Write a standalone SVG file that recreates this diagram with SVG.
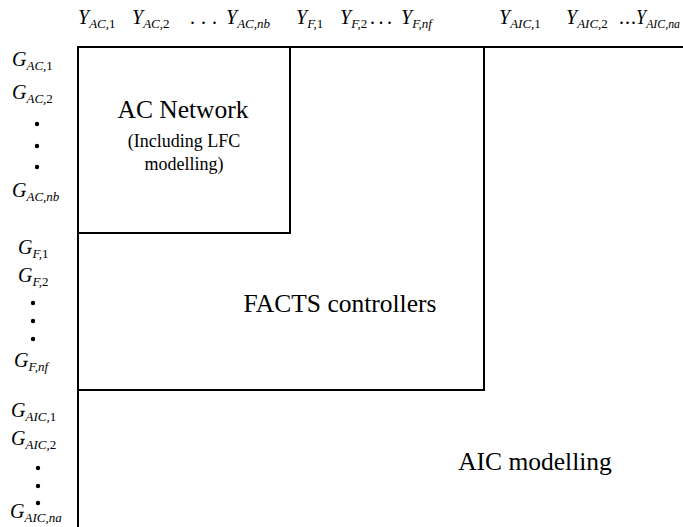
<svg xmlns="http://www.w3.org/2000/svg" width="683" height="527" viewBox="0 0 683 527">
  <style>
    text { fill: #000; }
    .m { font-style: italic; font-size: 20px; }
    .s { font-size: 13px; }
    .n { font-style: normal; }
    .lbl { text-anchor: middle; }
    .big { font-size: 25.5px; }
    .small { font-size: 18px; }
    .ln { stroke: #000; stroke-width: 2; fill: none; }
  </style>
  <rect width="683" height="527" fill="#fff"/>

  <!-- block boundaries -->
  <g id="connectors">
    <path class="ln" d="M77 47 H683"/>
    <path class="ln" d="M78 46 V527"/>
    <path class="ln" d="M290 47 V233 H78"/>
    <path class="ln" d="M484 47 V390 H78"/>
  </g>

  <g font-family="Liberation Serif, Times New Roman, serif">
  <!-- column headers -->
  <g id="col-headers">
    <text class="m" x="78" y="24">Y<tspan class="s" dy="4">AC,<tspan class="n">1</tspan></tspan></text>
    <text class="m" x="132" y="24">Y<tspan class="s" dy="4">AC,<tspan class="n">2</tspan></tspan></text>
    <text class="m n" x="190" y="24" letter-spacing="6">...</text>
    <text class="m" x="226" y="24">Y<tspan class="s" dy="4">AC,nb</tspan></text>
    <text class="m" x="296" y="24">Y<tspan class="s" dy="4">F,<tspan class="n">1</tspan></tspan></text>
    <text class="m" x="340" y="24">Y<tspan class="s" dy="4">F,<tspan class="n">2</tspan></tspan></text>
    <text class="m n" x="370" y="24" letter-spacing="3.5">...</text>
    <text class="m" x="401" y="24">Y<tspan class="s" dy="4">F,nf</tspan></text>
    <text class="m" x="499" y="24">Y<tspan class="s" dy="4" font-size="12">AIC,<tspan class="n">1</tspan></tspan></text>
    <text class="m" x="566" y="24">Y<tspan class="s" dy="4" font-size="12">AIC,<tspan class="n">2</tspan></tspan></text>
    <text class="m n" x="619" y="24" letter-spacing="1">...</text>
    <text class="m" x="636" y="24" textLength="44" lengthAdjust="spacingAndGlyphs">Y<tspan class="s" dy="4" font-size="11">AIC,na</tspan></text>
  </g>

  <!-- row headers -->
  <g id="row-headers">
    <text class="m" x="12" y="66">G<tspan class="s" dy="4">AC,<tspan class="n">1</tspan></tspan></text>
    <text class="m" x="12" y="99">G<tspan class="s" dy="4">AC,<tspan class="n">2</tspan></tspan></text>
    <circle cx="37" cy="124" r="2.2"/>
    <circle cx="37" cy="146" r="2.2"/>
    <circle cx="37" cy="167" r="2.2"/>
    <text class="m" x="12" y="197">G<tspan class="s" dy="4">AC,nb</tspan></text>

    <text class="m" x="18" y="254">G<tspan class="s" dy="4">F,<tspan class="n">1</tspan></tspan></text>
    <text class="m" x="18" y="282">G<tspan class="s" dy="4">F,<tspan class="n">2</tspan></tspan></text>
    <circle cx="33" cy="303" r="2.2"/>
    <circle cx="33" cy="321" r="2.2"/>
    <circle cx="33" cy="339" r="2.2"/>
    <text class="m" x="14" y="367">G<tspan class="s" dy="4">F,nf</tspan></text>

    <text class="m" x="11" y="417">G<tspan class="s" dy="4">AIC,<tspan class="n">1</tspan></tspan></text>
    <text class="m" x="11" y="445">G<tspan class="s" dy="4">AIC,<tspan class="n">2</tspan></tspan></text>
    <circle cx="38" cy="468" r="2.2"/>
    <circle cx="38" cy="486" r="2.2"/>
    <circle cx="38" cy="503" r="2.2"/>
    <text class="m" x="10" y="518">G<tspan class="s" dy="4">AIC,na</tspan></text>
  </g>

  <!-- block labels -->
  <g id="ac-network">
    <text class="lbl big" x="183" y="118">AC Network</text>
    <text class="lbl small" x="184" y="147">(Including LFC</text>
    <text class="lbl small" x="184" y="170">modelling)</text>
  </g>
  <g id="facts-controllers">
    <text class="lbl big" x="340" y="312">FACTS controllers</text>
  </g>
  <g id="aic-modelling">
    <text class="lbl big" x="535" y="470">AIC modelling</text>
  </g>
  </g>
</svg>
